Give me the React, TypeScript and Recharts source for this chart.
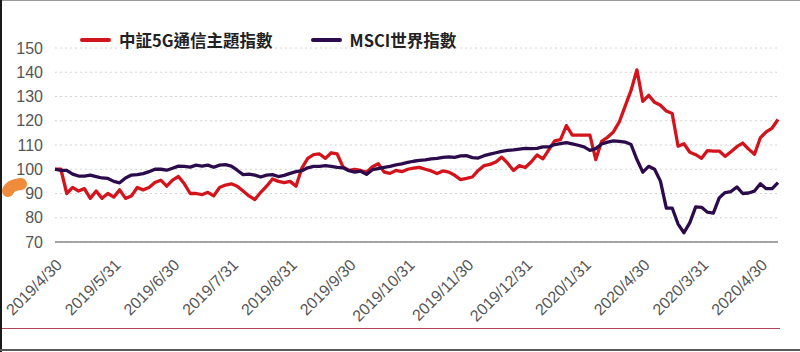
import { CartesianGrid, Legend, Line, LineChart, XAxis, YAxis } from 'recharts'

const TICK_LABELS = [
  '2019/4/30', '2019/5/31', '2019/6/30', '2019/7/31', '2019/8/31', '2019/9/30', '2019/10/31',
  '2019/11/30', '2019/12/31', '2020/1/31', '2020/4/30', '2020/3/31', '2020/4/30',
]
const Y_TICKS = [70, 80, 90, 100, 110, 120, 130, 140, 150]

// 中証5G通信主題指數
const CSI_5G = [
  100, 100, 90, 92.5, 91, 92, 88, 91, 88, 90,
  88.5, 91.5, 88, 89, 92.5, 91.5, 92.5, 94.5, 95.5, 93,
  95.5, 97, 94, 90, 90, 89.5, 90.5, 89, 92.5, 93.5,
  94, 93, 91, 89, 87.5, 90.5, 93, 96, 95, 94.5,
  95, 93, 100.5, 104.5, 106, 106.3, 104.5, 106.8, 106.3, 101,
  99.5, 100, 99.5, 98.8, 101, 102.3, 98.8, 98.3, 99.5, 99,
  100, 100.5, 100.8, 100, 99.3, 98.2, 99.3, 98.8, 97.5, 95.7,
  96.2, 96.8, 99.5, 101.5, 102, 103, 105, 102.5, 99.5, 101.5,
  100.7, 103, 105.9, 104.3, 108, 111.7, 112.2, 118, 114.1, 114.1,
  114.1, 114.1, 104, 111.5, 113.2, 115.4, 119.5, 126, 132.5, 141,
  128, 130.5, 127.6, 126.4, 124, 123, 109.5, 110.5, 107, 106,
  104.5, 107.7, 107.5, 107.5, 105.3, 107.2, 109.3, 110.8, 108.3, 106.2,
  113, 115.4, 117, 120.5,
]

// MSCI世界指數
const MSCI_WORLD = [
  100, 99.5, 99.5, 98, 97.2, 97.2, 97.6, 97, 96.4, 96.2,
  95, 94.4, 96.4, 97.6, 97.8, 98.2, 99, 100, 100, 99.6,
  100.4, 101.3, 101.2, 100.9, 101.7, 101.3, 101.7, 100.8, 101.7, 101.9,
  101.3, 99.6, 97.8, 98, 97.6, 96.8, 97.6, 97.8, 97, 97.5,
  98.3, 99, 99.4, 100.6, 101.2, 101.2, 101.5, 101.2, 100.8, 100.6,
  99.4, 98.8, 99.2, 97.9, 99.8, 100.3, 100.8, 101.2, 101.8, 102.2,
  102.8, 103.3, 103.7, 103.9, 104.3, 104.5, 104.9, 105.1, 104.9, 105.5,
  105.6, 104.8, 104.6, 105.6, 106.2, 106.8, 107.4, 107.8, 108, 108.3,
  108.6, 108.5, 108.6, 109.2, 109.2, 110.2, 110.6, 111, 110.5, 109.9,
  109.2, 107.8, 108.5, 110.4, 111.2, 111.7, 111.5, 111.2, 110.2, 104,
  98.8, 101.2, 100, 95.1, 84, 84, 77.4, 73.8, 78, 84.5,
  84.3, 82.3, 81.9, 88.2, 90.4, 90.8, 92.7, 90, 90.2, 91,
  94, 92, 92, 94.5,
]

const RED = '#d3141c'
const PURPLE = '#2c0b4c'
const FONT = '"Liberation Sans", Arial, sans-serif'
const CJK = '"Noto Sans CJK TC", "Noto Sans", sans-serif'

const data = CSI_5G.map((v, i) => ({ i, csi: v, msci: MSCI_WORLD[i] }))
const xTicks = TICK_LABELS.map((_, k) => k * 10)

function DateTick({ x, y, payload }: any) {
  const label = TICK_LABELS[Math.round(payload.value / 10)]
  return (
    <g transform={`translate(${x + 8},${y + 24})`}>
      <text x={0} y={0} textAnchor="end" transform="rotate(-45)" fontSize={16}
        fill="#555" fontFamily={FONT}>{label}</text>
    </g>
  )
}

function LegendBox() {
  const items = [
    { name: '中証5G通信主題指數', color: RED },
    { name: 'MSCI世界指數', color: PURPLE },
  ]
  return (
    <div style={{ display: 'flex', alignItems: 'center', gap: 38 }}>
      {items.map(it => (
        <div key={it.name} style={{ display: 'flex', alignItems: 'center' }}>
          <span style={{ width: 31, height: 4, background: it.color, borderRadius: 2, marginRight: 8 }} />
          <span style={{ fontFamily: CJK, fontSize: 16.5, fontWeight: 700, color: '#222' }}>{it.name}</span>
        </div>
      ))}
    </div>
  )
}

export default function App() {
  return (
    <div style={{ position: 'absolute', left: 0, top: 0, width: 800, height: 352, background: '#fff', overflow: 'hidden' }}>
      <div style={{ position: 'absolute', left: 0, top: 0, width: 800, height: 1, background: '#9a9a9a' }} />
      <div style={{ position: 'absolute', left: 0, top: 0, width: 2, height: 352, background: '#1a1a1a' }} />
      <div style={{ position: 'absolute', left: 0, top: 349, width: 800, height: 2, background: '#5a5a5a' }} />
      <div style={{ position: 'absolute', left: 2, top: 328, width: 778, height: 1, background: '#b04458' }} />
      <LineChart width={800} height={352} data={data}
        margin={{ top: 24, right: 22, left: 0, bottom: 30 }}>
        <CartesianGrid vertical={false} stroke="#d4d4d4" strokeDasharray="2 3" />
        <XAxis dataKey="i" type="number" domain={[0, CSI_5G.length - 1]} ticks={xTicks}
          interval={0} tick={<DateTick />} tickLine={false} tickSize={0} tickMargin={0}
          height={80} axisLine={{ stroke: '#888', strokeWidth: 1.5 }} />
        <YAxis domain={[70, 150]} ticks={Y_TICKS} width={55} axisLine={false} tickLine={false}
          tickSize={0} tickMargin={12} interval={0}
          tick={{ fontSize: 16, fill: '#555', fontFamily: FONT }} />
        <Legend verticalAlign="top" align="left" content={<LegendBox />}
          wrapperStyle={{ top: 28, left: 80, width: 'auto' }} />
        <Line dataKey="csi" stroke={RED} strokeWidth={3.3} dot={false} isAnimationActive={false}
          strokeLinejoin="round" />
        <Line dataKey="msci" stroke={PURPLE} strokeWidth={3.3} dot={false} isAnimationActive={false}
          strokeLinejoin="round" />
      </LineChart>
      <svg width={30} height={30} style={{ position: 'absolute', left: 0, top: 174 }}>
        <path d="M8 17 Q10 11 21 10" stroke="#ef8b3a" strokeWidth={12} strokeLinecap="round" fill="none" />
      </svg>
    </div>
  )
}
